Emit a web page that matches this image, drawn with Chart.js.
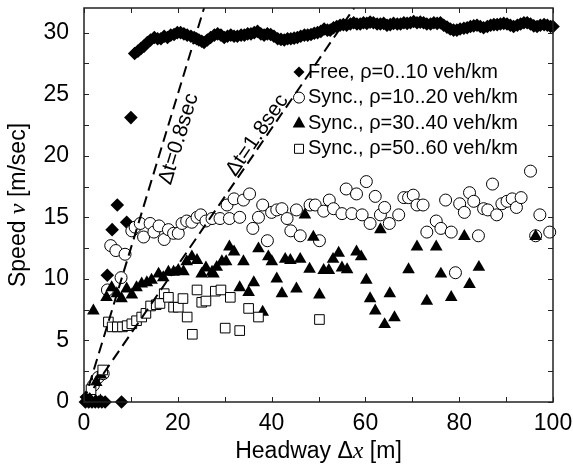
<!DOCTYPE html>
<html>
<head>
<meta charset="utf-8">
<script src="https://cdn.jsdelivr.net/npm/chart.js@4.4.0/dist/chart.umd.min.js"></script>
<style>
html, body { margin: 0; padding: 0; background: #fff; }
</style>
</head>
<body>
<canvas id="myChart" width="573" height="468"></canvas>
<script>
// data: [headway m, speed m/s]
let freeFlow = [[0.3,0],[1.0,0],[1.7,0],[2.4,0],[3.1,0],[3.8,0],[4.5,0],[8.0,0],[0.5,0.4],
	[4.97,10.3],[6.0,14.0],[7.1,16.0],[9.1,14.6],[10.0,23.1],
	[10.8,28.3],[11.5,28.5],[12.1,28.7],[12.8,28.9],[13.5,29.2],[14.2,29.4],[15.0,29.6],[15.7,29.5],[16.4,29.5],[17.1,29.7],
	[17.8,29.6],[18.5,29.8],[19.2,29.85],[19.9,30.0],[20.6,30.0],[21.3,29.9],[22.0,29.8],[22.8,29.7],[23.5,29.6],[24.0,29.5],
	[24.5,29.4],[25.1,29.3],[25.6,29.2],[26.3,29.4],[27.0,29.6],[27.8,29.8],[28.5,29.9],[29.2,29.8],[29.9,29.6],[30.6,29.7],
	[31.3,29.8],[32.0,29.7],[32.7,29.7],[33.5,29.8],[34.2,29.8],[34.9,29.9],[35.6,29.9],[36.3,30.0],[37.0,30.1],[37.7,29.9],
	[38.4,29.8],[39.1,29.9],[39.8,29.85],[40.5,29.7],[41.3,29.5],[42.0,29.45],[42.7,29.4],[43.4,29.5],[44.1,29.5],[44.8,29.55],
	[45.5,29.6],[46.2,29.7],[47.0,29.8],[47.7,29.8],[48.4,29.85],[49.1,29.95],[49.8,30.0],[50.5,30.1],[51.2,30.3],[51.9,30.2],
	[52.5,30.2],[53.2,30.4],[53.9,30.5],[54.6,30.6],[55.3,30.65],[56.0,30.6],[56.8,30.7],[57.5,30.8],[58.2,30.7],[58.9,30.7],
	[59.6,30.8],[60.3,30.75],[61.0,30.85],[61.7,30.8],[62.5,30.7],[63.2,30.7],[63.9,30.75],[64.6,30.6],[65.3,30.65],[66.0,30.75],
	[66.8,30.7],[67.5,30.7],[68.2,30.8],[68.9,30.75],[69.6,30.8],[70.3,30.9],[71.0,30.8],[71.7,30.85],[72.4,30.8],[73.1,30.7],
	[73.9,30.7],[74.6,30.8],[75.3,30.75],[76.0,30.8],[76.7,30.6],[77.4,30.45],[78.1,30.3],[78.8,30.2],[79.5,30.2],[80.2,30.3],
	[81.0,30.35],[81.7,30.4],[82.4,30.5],[83.1,30.55],[83.8,30.6],[84.5,30.5],[85.2,30.4],[86.0,30.5],[86.7,30.6],[87.4,30.65],
	[88.1,30.65],[88.8,30.7],[89.5,30.75],[90.2,30.7],[90.9,30.6],[91.6,30.5],[92.4,30.6],[93.1,30.7],[93.8,30.8],[94.5,30.8],
	[95.2,30.7],[95.9,30.55],[96.6,30.5],[97.3,30.6],[98.1,30.65],[98.8,30.6],[99.5,30.5],[100,30.5]];

let sync1020 = [[2.0,1.35],[3.05,2.0],[4.1,2.3],[5.0,9.1],[5.7,12.7],[6.8,12.3],[7.9,10.1],[8.75,12.0],[10.2,13.9],[10.9,14.2],
	[12.0,14.5],[12.7,13.4],[14.1,14.5],[14.9,13.8],[16.0,14.3],[17.1,13.2],[18.0,14.0],[19.1,13.7],[20.1,13.7],[20.9,14.5],
	[21.9,14.7],[23.0,14.6],[24.1,15.0],[24.9,15.2],[26.0,14.7],[27.3,14.9],[29.0,14.9],[30.5,16.0],[31.0,14.9],[32.0,16.5],
	[33.2,15.0],[34.0,16.4],[35.3,16.9],[36.0,14.1],[37.2,15.0],[38.1,16.0],[39.1,13.1],[40.0,15.4],[41.1,15.6],[42.2,15.7],
	[43.3,14.9],[44.1,13.9],[45.3,15.6],[46.1,13.5],[48.2,16.0],[49.3,16.0],[50.2,13.1],[51.1,15.5],[52.3,16.4],[53.2,15.7],
	[55.0,15.3],[55.9,17.3],[57.1,15.3],[58.1,16.9],[59.3,15.2],[60.2,17.9],[61.0,14.5],[62.1,16.7],[63.2,15.2],[64.1,15.8],
	[65.1,14.5],[67.1,15.2],[68.2,16.6],[69.2,16.6],[70.2,16.8],[71.0,16.0],[72.3,16.0],[73.1,13.8],[75.1,14.7],[76.1,14.1],
	[77.1,16.4],[78.3,13.8],[79.2,10.5],[80.1,16.1],[81.1,15.4],[82.2,17.0],[83.1,16.3],[84.1,13.5],[85.2,15.7],[86.1,15.6],
	[87.1,17.7],[88.0,15.2],[89.1,16.1],[90.2,16.3],[91.3,16.5],[92.2,15.8],[93.2,16.6],[95.2,18.75],[96.3,13.5],[97.2,15.2],[99.3,13.8]];

let sync3040 = [[0.8,0.3],[1.5,0.1],[2.5,0.1],[3.5,0.1],[2.6,1.6],[3.6,2.2],
	[2.0,7.4],[4.8,8.5],[5.9,9.3],[7.0,8.8],[8.0,8.4],[9.1,9.2],[10.2,8.7],[11.2,9.3],[12.3,9.6],[13.4,9.7],
	[14.4,9.9],[15.9,10.4],[16.9,10.1],[18.0,10.55],[19.1,10.55],[20.1,10.7],[21.2,10.6],[21.9,11.4],[23.0,11.8],[24.1,11.5],
	[25.1,10.4],[26.0,10.9],[27.3,10.55],[27.6,10.4],[28.3,10.95],[29.4,11.4],[30.3,11.4],[31.0,12.6],[32.0,12.2],[33.2,9.3],
	[34.0,11.4],[35.1,8.9],[36.2,9.7],[37.2,12.45],[38.1,7.3],[39.3,11.8],[40.05,11.4],[41.1,10.0],[42.2,8.8],[42.9,11.6],
	[44.0,11.5],[45.3,9.2],[46.1,11.6],[47.1,15.2],[48.1,10.8],[48.9,13.4],[50.2,8.7],[51.1,10.7],[52.2,10.7],[53.1,11.6],
	[54.3,12.1],[55.0,10.9],[56.1,10.75],[58.1,12.2],[59.1,11.8],[60.2,9.9],[61.0,8.4],[62.1,7.4],[63.2,14.0],[64.1,6.3],
	[65.2,8.8],[66.2,6.85],[69.2,10.75],[71.0,12.6],[73.1,8.2],[75.1,12.6],[76.1,10.4],[78.3,8.5],[81.1,13.45],[82.2,9.55],
	[84.2,10.95],[96.3,13.45]];

let sync5060 = [[1.5,1.0],[4.0,2.6],
	[5.2,6.5],[6.0,6.1],[7.1,6.1],[8.2,6.1],[9.2,6.2],[10.2,6.35],[11.2,6.6],[12.3,6.9],[13.2,7.2],[14.2,7.8],
	[15.4,7.9],[16.2,8.0],[17.1,8.8],[18.0,8.5],[19.1,7.7],[20.1,7.7],[21.1,8.4],[22.0,6.9],[23.1,5.5],[24.1,9.1],
	[25.1,8.1],[26.0,8.2],[28.0,9.0],[29.2,9.1],[30.1,6.0],[31.2,8.5],[33.2,5.8],[35.1,7.6],[37.2,6.9],[50.2,6.7]];

let seriesLabels = ['Free, \u03c1=0..10 veh/km', 'Sync., \u03c1=10..20 veh/km', 'Sync., \u03c1=30..40 veh/km', 'Sync., \u03c1=50..60 veh/km'];
let timeHeadways = [0.8, 1.8];
let xTicks = [0, 20, 40, 60, 80, 100];
let yTicks = [0, 5, 10, 15, 20, 25, 30];
let xMinor = [10, 30, 50, 70, 90];
let yMinor = [2.5, 7.5, 12.5, 17.5, 22.5, 27.5];

const FONT = '"Liberation Sans", Arial, sans-serif';
const SERIF = '"Liberation Serif", "Times New Roman", serif';
const vMax = 32;

function toPts(arr) {
	return arr.map(p => ({x: p[0], y: p[1]}));
}

function drawMarker(ctx, style, x, y, r) {
	ctx.save();
	ctx.lineWidth = 1;
	ctx.strokeStyle = '#000';
	ctx.beginPath();
	if (style === 'rectRot') {
		ctx.moveTo(x, y - r); ctx.lineTo(x + r, y); ctx.lineTo(x, y + r); ctx.lineTo(x - r, y); ctx.closePath();
		ctx.fillStyle = '#000'; ctx.fill();
	} else if (style === 'circle') {
		ctx.arc(x, y, r, 0, Math.PI * 2);
		ctx.fillStyle = '#fff'; ctx.fill(); ctx.stroke();
	} else if (style === 'triangle') {
		ctx.moveTo(x, y - r); ctx.lineTo(x + r * 0.9, y + r * 0.6); ctx.lineTo(x - r * 0.9, y + r * 0.6); ctx.closePath();
		ctx.fillStyle = '#000'; ctx.fill();
	} else {
		ctx.rect(x - r, y - r, 2 * r, 2 * r);
		ctx.fillStyle = '#fff'; ctx.fill(); ctx.stroke();
	}
	ctx.restore();
}

// frame, inward ticks, titles, line labels, legend
const decorations = {
	id: 'decorations',
	afterDraw(chart) {
		const ctx = chart.ctx;
		const a = chart.chartArea;
		const xs = chart.scales.x, ys = chart.scales.y;
		ctx.save();
		ctx.strokeStyle = '#222';
		ctx.lineWidth = 1.5;
		ctx.strokeRect(a.left, a.top, a.right - a.left, a.bottom - a.top);
		ctx.lineWidth = 1;
		const tl = 5;
		ctx.beginPath();
		xTicks.concat(xMinor).forEach(v => {
			const px = Math.round(xs.getPixelForValue(v)) + 0.5;
			ctx.moveTo(px, a.bottom); ctx.lineTo(px, a.bottom - tl);
			ctx.moveTo(px, a.top); ctx.lineTo(px, a.top + tl);
		});
		yTicks.concat(yMinor).forEach(v => {
			const py = Math.round(ys.getPixelForValue(v)) + 0.5;
			ctx.moveTo(a.left, py); ctx.lineTo(a.left + tl, py);
			ctx.moveTo(a.right, py); ctx.lineTo(a.right - tl, py);
		});
		ctx.stroke();

		ctx.fillStyle = '#000';
		// x title
		ctx.textBaseline = 'middle';
		ctx.textAlign = 'left';
		const parts = [['Headway \u0394', '23px ' + FONT], ['x', 'italic 24px ' + SERIF], [' [m]', '23px ' + FONT]];
		let w = 0;
		parts.forEach(p => { ctx.font = p[1]; w += ctx.measureText(p[0]).width; });
		let cx = (a.left + a.right) / 2 - w / 2;
		parts.forEach(p => { ctx.font = p[1]; ctx.fillText(p[0], cx, 452); cx += ctx.measureText(p[0]).width; });

		// y title
		ctx.save();
		ctx.translate(19, (a.top + a.bottom) / 2);
		ctx.rotate(-Math.PI / 2);
		const yparts = [['Speed ', '23px ' + FONT], ['v', 'italic 24px ' + SERIF], [' [m/sec]', '23px ' + FONT]];
		w = 0;
		yparts.forEach(p => { ctx.font = p[1]; w += ctx.measureText(p[0]).width; });
		cx = -w / 2;
		yparts.forEach(p => { ctx.font = p[1]; ctx.fillText(p[0], cx, 0); cx += ctx.measureText(p[0]).width; });
		ctx.restore();

		// labels along the dashed lines
		const lblAt = [21.7, 21.3];
		const lblOff = [14, -8];
		timeHeadways.forEach((dt, i) => {
			const x0 = xs.getPixelForValue(0), y0 = ys.getPixelForValue(0);
			const x1 = xs.getPixelForValue(vMax * dt), y1 = ys.getPixelForValue(vMax);
			const ang = Math.atan2(y1 - y0, x1 - x0);
			const px = xs.getPixelForValue(lblAt[i] * dt), py = ys.getPixelForValue(lblAt[i]);
			ctx.save();
			ctx.translate(px, py);
			ctx.rotate(ang);
			ctx.font = '21px ' + FONT;
			ctx.textAlign = 'center';
			ctx.textBaseline = 'middle';
			ctx.fillText('\u0394t=' + dt + 'sec', 0, lblOff[i]);
			ctx.restore();
		});

		// legend
		const styles = ['rectRot', 'circle', 'triangle', 'rect'];
		const sizes = [5.5, 5.5, 7, 4.5];
		ctx.font = '20px ' + FONT;
		ctx.textAlign = 'left';
		ctx.textBaseline = 'middle';
		seriesLabels.forEach((t, i) => {
			const ry = 72 + i * 25.6;
			drawMarker(ctx, styles[i], 299, ry, sizes[i]);
			ctx.fillStyle = '#000';
			ctx.fillText(t, 308, ry);
		});
		ctx.restore();
	}
};

let ctx = document.getElementById('myChart').getContext('2d');

let guideLines = timeHeadways.map(dt => ({
	type: 'line',
	data: [{x: 0, y: 0}, {x: vMax * dt, y: vMax}],
	borderColor: '#000',
	borderWidth: 2,
	borderDash: [11, 6],
	pointRadius: 0,
	fill: false,
	order: 0
}));

function noPad(s) {
	s.paddingTop = 0;
	s.paddingBottom = 0;
	s.paddingLeft = 0;
	s.paddingRight = 0;
}

let myChart = new Chart(ctx, {
	type: 'scatter',
	data: {
		datasets: guideLines.concat([
			{
				label: seriesLabels[2],
				data: toPts(sync3040),
				pointStyle: 'triangle',
				pointRadius: 7.3,
				backgroundColor: '#000',
				borderColor: '#000',
				borderWidth: 0,
				clip: false,
				order: 2
			},
			{
				label: seriesLabels[3],
				data: toPts(sync5060),
				pointStyle: 'rect',
				pointRadius: 6.8,
				backgroundColor: '#fff',
				borderColor: '#000',
				borderWidth: 1,
				clip: false,
				order: 1
			},
			{
				label: seriesLabels[1],
				data: toPts(sync1020),
				pointStyle: 'circle',
				pointRadius: 6,
				backgroundColor: '#fff',
				borderColor: '#000',
				borderWidth: 1,
				clip: false,
				order: 3
			},
			{
				label: seriesLabels[0],
				data: toPts(freeFlow),
				pointStyle: 'rectRot',
				pointRadius: 6.8,
				backgroundColor: '#000',
				borderColor: '#000',
				borderWidth: 0,
				clip: false,
				order: 4
			}
		])
	},
	options: {
		responsive: false,
		animation: false,
		layout: {
			padding: {top: 8, right: 20, left: 0, bottom: 0}
		},
		plugins: {
			legend: {display: false},
			tooltip: {enabled: false}
		},
		scales: {
			x: {
				type: 'linear',
				min: 0,
				max: 100,
				afterFit: s => { s.height = 66; noPad(s); },
				afterBuildTicks: s => { s.ticks = xTicks.map(v => ({value: v})); },
				grid: {display: false, drawTicks: false},
				border: {display: false},
				ticks: {color: '#000', padding: 8, maxRotation: 0, font: {family: FONT, size: 23}}
			},
			y: {
				type: 'linear',
				min: 0,
				max: vMax,
				afterFit: s => { s.width = 84; noPad(s); },
				afterBuildTicks: s => { s.ticks = yTicks.map(v => ({value: v})); },
				grid: {display: false, drawTicks: false},
				border: {display: false},
				ticks: {color: '#000', padding: 15, font: {family: FONT, size: 23}}
			}
		}
	},
	plugins: [decorations]
});
</script>
</body>
</html>
